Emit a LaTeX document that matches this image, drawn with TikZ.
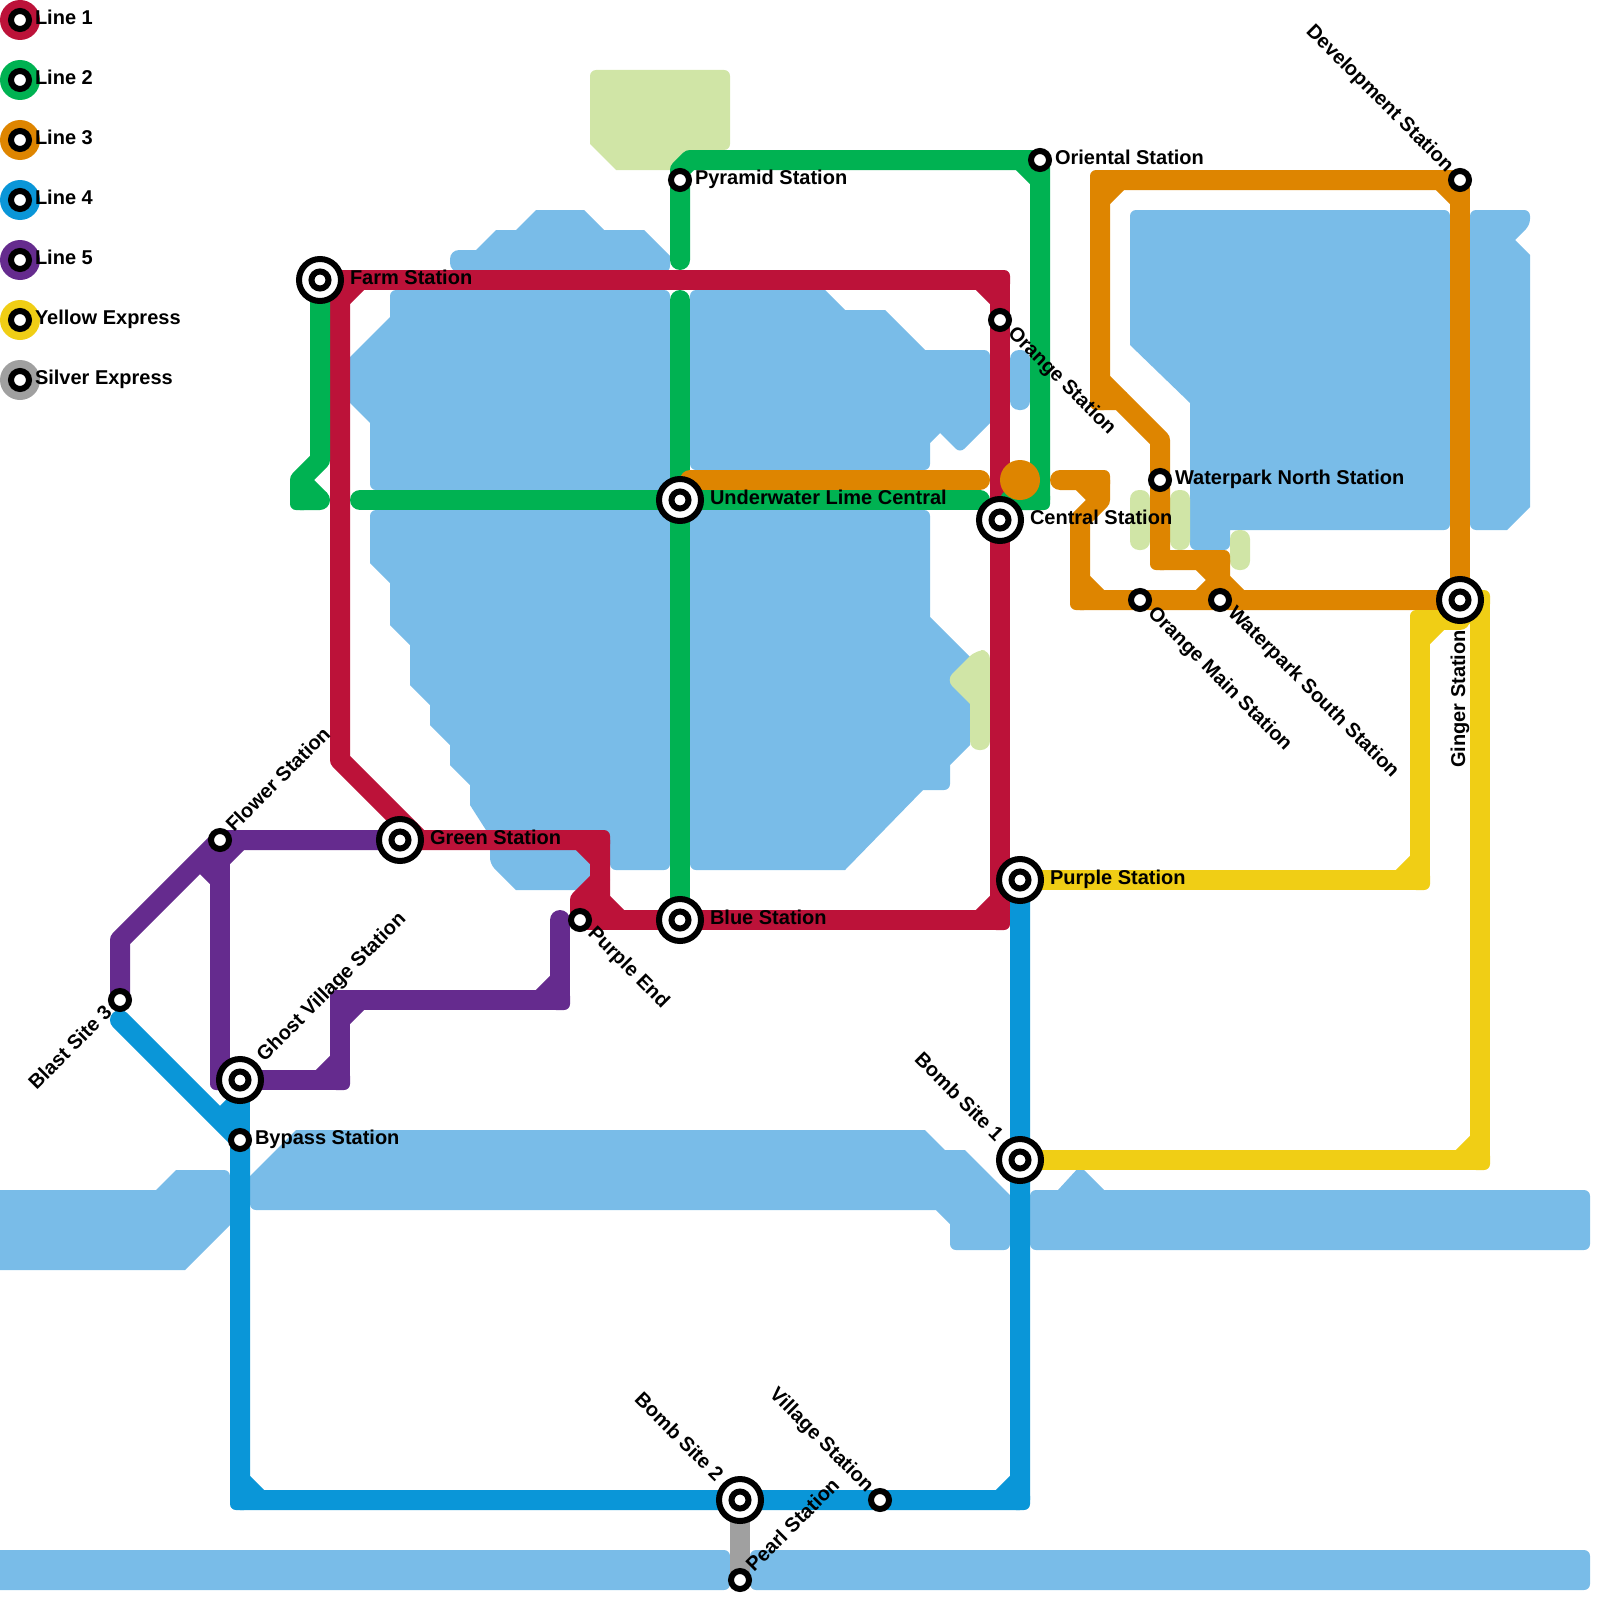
\documentclass[tikz,border=0pt]{standalone}
\usepackage{fontspec}
\setmainfont{Liberation Sans}
\definecolor{cred}{HTML}{BC1239}
\definecolor{cgreen}{HTML}{00B252}
\definecolor{corange}{HTML}{DE8500}
\definecolor{cblue}{HTML}{0A96D8}
\definecolor{cpurple}{HTML}{652B8E}
\definecolor{cyellow}{HTML}{F0CE15}
\definecolor{csilver}{HTML}{A0A0A0}
\definecolor{cwater}{HTML}{79BCE8}
\definecolor{cpark}{HTML}{D0E5A6}
\pgfdeclarelayer{water}
\pgfdeclarelayer{lines}
\pgfsetlayers{water,lines,main}
\tikzset{
  bigst/.style={circle,inner sep=0pt,outer sep=0pt,minimum size=42pt,line width=6pt,draw=black,fill=white,
    path picture={\draw[black,line width=6pt] (path picture bounding box.center) circle (8.5pt);}},
  smallst/.style={circle,inner sep=0pt,outer sep=0pt,minimum size=18pt,line width=6pt,draw=black,fill=white},
  ln/.style={line width=20pt,line cap=round,line join=round},
  chord/.style={line width=20pt,line cap=butt},
  wat/.style={fill=cwater},
  prk/.style={fill=cpark},
  rc/.style={rounded corners=6pt},
  rr/.style={rounded corners=9pt},
  sc/.style={sharp corners},
  lbl/.style={font=\bfseries\fontsize{20}{22}\selectfont,inner sep=0pt,outer sep=0pt,text=black},
  lr/.style={lbl,anchor=base west},
  lur/.style={lbl,anchor=base west,rotate=45},
  ldr/.style={lbl,anchor=base west,rotate=-45},
  lul/.style={lbl,anchor=base east,rotate=-45},
  ldl/.style={lbl,anchor=base east,rotate=45},
  lup/.style={lbl,anchor=base east,rotate=90}
}
\newcommand{\sqc}[2]{\foreach \cx/\cy in {#2}{\fill[#1,rounded corners=6pt] (\cx-10,\cy-10) rectangle (\cx+10,\cy+10);}}
\begin{document}
\begin{tikzpicture}[x=1pt,y=-1pt]
\useasboundingbox (0,0) rectangle (1600,1600);
% stations
\node[bigst] (farm) at (320,280) {};
\node[smallst] (pyramid) at (680,180) {};
\node[smallst] (oriental) at (1040,160) {};
\node[smallst] (orangest) at (1000,320) {};
\node[bigst] (lime) at (680,500) {};
\node[bigst] (central) at (1000,520) {};
\node[smallst] (wpnorth) at (1160,480) {};
\node[smallst] (devel) at (1460,180) {};
\node[bigst] (ginger) at (1460,600) {};
\node[smallst] (ormain) at (1140,600) {};
\node[smallst] (wpsouth) at (1220,600) {};
\node[smallst] (flower) at (220,840) {};
\node[bigst] (greenst) at (400,840) {};
\node[smallst] (purpend) at (580,920) {};
\node[bigst] (bluest) at (680,920) {};
\node[bigst] (purpst) at (1020,880) {};
\node[smallst] (blast) at (120,1000) {};
\node[bigst] (ghost) at (240,1080) {};
\node[smallst] (bypass) at (240,1140) {};
\node[bigst] (bomba) at (1020,1160) {};
\node[bigst] (bombb) at (740,1500) {};
\node[smallst] (village) at (880,1500) {};
\node[smallst] (pearl) at (740,1580) {};
% labels
\node[lr] (l1) at ([shift={(30,4.6)}]farm.center) {Farm Station};
\node[lr] (l2) at ([shift={(15,4.6)}]pyramid.center) {Pyramid Station};
\node[lr] (l3) at ([shift={(15,4.6)}]oriental.center) {Oriental Station};
\node[ldr] (l4) at ([shift={(7.1,14.1)}]orangest.center) {Orange Station};
\node[lr] (l5) at ([shift={(30,4.6)}]lime.center) {Underwater Lime Central};
\node[lr] (l6) at ([shift={(30,4.6)}]central.center) {Central Station};
\node[lr] (l7) at ([shift={(15,4.6)}]wpnorth.center) {Waterpark North Station};
\node[lul] (l8) at ([shift={(-14.1,-7.1)}]devel.center) {Development Station};
\node[lup] (l9) at ([shift={(5,30)}]ginger.center) {Ginger Station};
\node[ldr] (l10) at ([shift={(7.1,14.1)}]ormain.center) {Orange Main Station};
\node[ldr] (l11) at ([shift={(7.1,14.1)}]wpsouth.center) {Waterpark South Station};
\node[lur] (l12) at ([shift={(14.1,-7.1)}]flower.center) {Flower Station};
\node[lr] (l13) at ([shift={(30,4.6)}]greenst.center) {Green Station};
\node[ldr] (l14) at ([shift={(7.1,14.1)}]purpend.center) {Purple End};
\node[lr] (l15) at ([shift={(30,4.6)}]bluest.center) {Blue Station};
\node[lr] (l16) at ([shift={(30,4.6)}]purpst.center) {Purple Station};
\node[ldl] (l17) at ([shift={(-7.1,14.1)}]blast.center) {Blast Site 3};
\node[lur] (l18) at ([shift={(24.7,-17.7)}]ghost.center) {Ghost Village Station};
\node[lr] (l19) at ([shift={(15,4.6)}]bypass.center) {Bypass Station};
\node[lul] (l20) at ([shift={(-24.7,-17.7)}]bomba.center) {Bomb Site 1};
\node[lul] (l21) at ([shift={(-24.7,-17.7)}]bombb.center) {Bomb Site 2};
\node[lul] (l22) at ([shift={(-14.1,-7.1)}]village.center) {Village Station};
\node[lur] (l23) at ([shift={(14.1,-7.1)}]pearl.center) {Pearl Station};
% legend
\foreach \nm/\col/\yy/\txt in {a/cred/20/Line 1,b/cgreen/80/Line 2,c/corange/140/Line 3,d/cblue/200/Line 4,e/cpurple/260/Line 5,f/cyellow/320/Yellow Express,g/csilver/380/Silver Express}{
  \fill[\col] (20,\yy) circle (20pt);
  \node[smallst] (leg\nm) at (20,\yy) {};
  \node[lr] (legt\nm) at ([shift={(15,4.6)}]leg\nm.center) {\txt};
}
% water and parks: every outline starts in the middle of an edge
\begin{pgfonlayer}{water}
\begin{scope}
\clip (0,0) rectangle (1600,1600);
\fill[wat] (560,272) [rr] -- (450,272) -- (450,250) [sc] -- (476,250) -- (496,230) -- (516,230) -- (536,210) -- (584,210) -- (604,230) -- (644,230) -- (670,256) [rc] -- (670,272) [sc] -- cycle;
\fill[wat] (500,290) [rc] -- (670,290) -- (670,490) -- (370,490) [sc] -- (370,423) -- (350,403) -- (350,357) -- (390,317) [rc] -- (390,290) [sc] -- cycle;
\fill[wat] (750,290) [sc] -- (825,290) -- (845,310) -- (885,310) -- (925,350) [rc] -- (990,350) [sc] -- (990,423) [rc] -- (960,453) [sc] -- (940,433) -- (930,443) [rc] -- (930,470) -- (690,470) -- (690,290) [sc] -- cycle;
\fill[fill=cwater,rounded corners=9pt] (1010,350) rectangle (1030,410);
\fill[wat] (500,510) [rc] -- (670,510) -- (670,870) -- (610,870) [sc] -- (610,852) -- (500,852) -- (470,805) -- (470,785) -- (450,765) -- (450,745) -- (430,725) -- (430,705) -- (410,685) -- (410,645) -- (390,625) -- (390,583) -- (370,563) [rc] -- (370,510) [sc] -- cycle;
\fill[wat] (540,846) -- (590,846) -- (590,876) -- (576,890) -- (516,890) [rc] -- (490,864) [sc] -- (490,846) -- cycle;
\fill[wat] (500,815) -- (640,815) -- (640,860) -- (500,860) -- cycle;
\fill[wat] (800,510) [rc] -- (930,510) [sc] -- (930,617) -- (970,657) -- (970,745) -- (950,765) [rc] -- (950,790) [sc] -- (923,790) -- (845,870) [rc] -- (690,870) -- (690,510) [sc] -- cycle;
\fill[wat] (1300,210) [rc] -- (1450,210) -- (1450,530) [sc] -- (1230,530) [rc] -- (1230,550) -- (1190,550) [sc] -- (1190,403) -- (1130,345) [rc] -- (1130,210) [sc] -- cycle;
\fill[wat] (1500,530) [rc] -- (1470,530) -- (1470,210) -- (1530,210) -- (1530,225) [sc] -- (1515,240) -- (1530,255) -- (1530,507) -- (1507,530) -- cycle;
\fill[wat] (-10,1190) -- (156,1190) -- (176,1170) [rc] -- (230,1170) [sc] -- (230,1225) -- (185,1270) -- (-10,1270) -- cycle;
\fill[wat] (600,1210) [rc] -- (250,1210) [sc] -- (250,1176) -- (296,1130) -- (925,1130) -- (945,1150) -- (965,1150) -- (1010,1195) [rc] -- (1010,1250) -- (950,1250) [sc] -- (950,1224) -- (936,1210) -- cycle;
\fill[wat] (1300,1190) [rc] -- (1590,1190) -- (1590,1250) -- (1030,1250) -- (1030,1190) [sc] -- (1058,1190) [rc] -- (1080,1166) [sc] -- (1104,1190) -- cycle;
\fill[wat] (300,1550) [rc] -- (730,1550) -- (730,1590) [sc] -- (-10,1590) -- (-10,1550) -- cycle;
\fill[fill=cwater,rounded corners=6pt] (750,1550) rectangle (1590,1590);
\fill[prk] (650,70) [rc] -- (730,70) -- (730,150) [sc] -- (690,150) -- (670,170) -- (616,170) -- (590,144) [rc] -- (590,70) [sc] -- cycle;
\fill[prk] (980,750) [rr] -- (970,750) [sc] -- (970,704) [rr] -- (946,680) -- (976,650) -- (990,650) -- (990,750) [sc] -- cycle;
\fill[fill=cpark,rounded corners=9pt] (1130,490) rectangle (1150,550);
\fill[fill=cpark,rounded corners=9pt] (1170,490) rectangle (1190,550);
\fill[fill=cpark,rounded corners=9pt] (1230,530) rectangle (1250,570);
\end{scope}
\end{pgfonlayer}
% lines
\begin{pgfonlayer}{lines}
% line 1
\draw[ln,cred] (farm.center) -- (1000,280) -- (orangest.center) -- (central.center) -- (1000,920) -- (bluest.center) -- (purpend.center);
\draw[ln,cred] (340,280) -- (340,760) -- (420,840) -- (600,840) -- (600,920);
\draw[ln,cred] (greenst.center) -- (420,840);
\draw[ln,cred] (600,880) -- (580,900) -- (purpend.center);
\draw[chord,cred] (360,280) -- (340,300) (980,280) -- (1000,300) (1000,900) -- (980,920) (580,840) -- (600,860) (600,900) -- (620,920);
\sqc{cred}{1000/280,1000/920,600/840}
% line 2
\draw[ln,cgreen] (680,260) -- (pyramid.center) -- (680,170) -- (690,160) -- (oriental.center) -- (1040,500) -- (1010,500);
\draw[ln,cgreen] (680,300) -- (lime.center) -- (bluest.center);
\draw[ln,cgreen] (360,500) -- (lime.center) -- (980,500);
\draw[ln,cgreen] (farm.center) -- (320,460) -- (300,480) -- (300,500) -- (320,500);
\draw[chord,cgreen] (1020,160) -- (1040,180) (300,480) -- (320,500);
\sqc{cgreen}{1040/500,300/500}
% line 3
\draw[ln,corange] (devel.center) -- (1100,180) -- (1100,400) -- (1120,400) -- (1160,440) -- (wpnorth.center) -- (1160,560) -- (1220,560) -- (1220,600);
\draw[ln,corange] (devel.center) -- (ginger.center);
\draw[ln,corange] (1060,480) -- (1100,480) -- (1100,500) -- (1080,520) -- (1080,600) -- (ormain.center) -- (wpsouth.center) -- (ginger.center);
\draw[ln,corange] (690,480) -- (980,480);
\fill[corange] (1020,480) circle (20pt);
\draw[chord,corange] (1120,180) -- (1100,200) (1440,180) -- (1460,200) (1100,380) -- (1120,400) (1080,480) -- (1100,500) (1080,580) -- (1100,600) (1200,560) -- (1220,580) (1200,600) -- (1220,580) -- (1240,600);
\sqc{corange}{1100/180,1160/560,1220/560,1100/480,1080/600,1100/400}
% line 4
\draw[ln,cblue] (120,1020) -- (bypass.center) -- (240,1500) -- (bombb.center) -- (village.center) -- (1020,1500) -- (bomba.center) -- (purpst.center);
\draw[ln,cblue] (ghost.center) -- (bypass.center);
\draw[chord,cblue] (240,1100) -- (220,1120) (240,1480) -- (260,1500) (1000,1500) -- (1020,1480);
\sqc{cblue}{240/1500,1020/1500}
% line 5
\draw[ln,cpurple] (greenst.center) -- (flower.center) -- (120,940) -- (blast.center);
\draw[ln,cpurple] (flower.center) -- (220,1080) -- (340,1080) -- (340,1000) -- (560,1000) -- (560,920);
\draw[chord,cpurple] (240,840) -- (220,860) (200,860) -- (220,880) (320,1080) -- (340,1060) (360,1000) -- (340,1020) (540,1000) -- (560,980);
\sqc{cpurple}{220/1080,340/1080,340/1000,560/1000}
% yellow
\draw[ln,cyellow] (purpst.center) -- (1420,880) -- (1420,620) -- (1460,620);
\draw[ln,cyellow] (ginger.center) -- (1480,600) -- (1480,1160) -- (bomba.center);
\draw[chord,cyellow] (1400,880) -- (1420,860) (1440,620) -- (1420,640) (1460,1160) -- (1480,1140) (1460,600) -- (1480,620);
\sqc{cyellow}{1420/880,1420/620,1480/600,1480/1160}
% silver
\draw[line width=20pt,line cap=butt,csilver] (bombb.center) -- (pearl.center);
\end{pgfonlayer}
\end{tikzpicture}
\end{document}
